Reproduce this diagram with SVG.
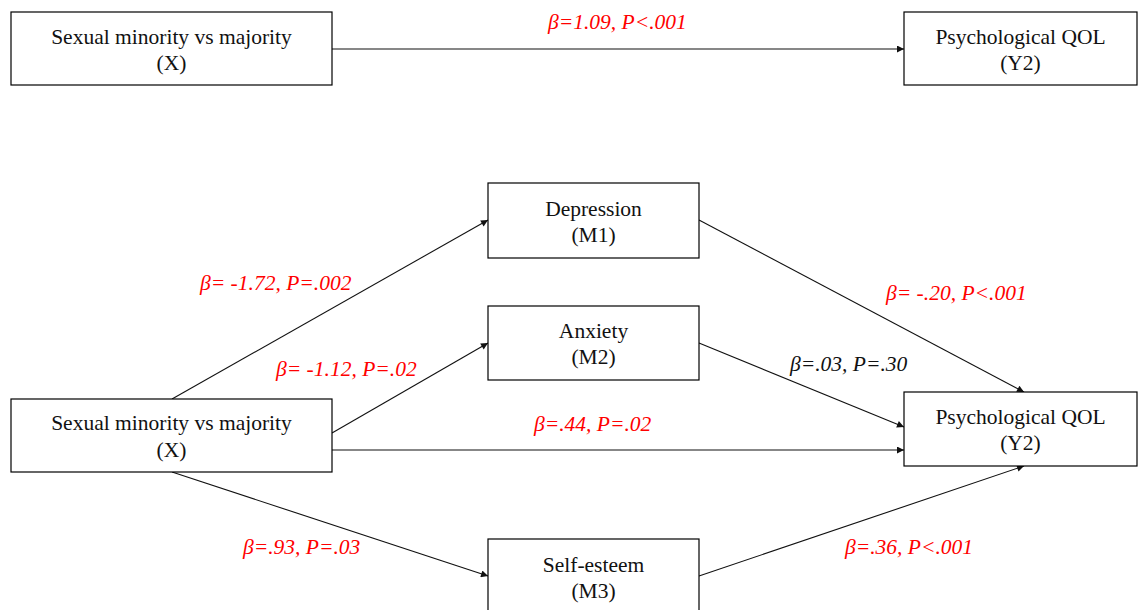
<svg xmlns="http://www.w3.org/2000/svg" width="1140" height="610" viewBox="0 0 1140 610">
<style>
.box{fill:#fff;stroke:#000;stroke-width:1.2}
.t{font-family:"Liberation Serif","Times New Roman",serif;font-size:21.5px;fill:#111;text-anchor:middle}
.l{font-family:"Liberation Serif","Times New Roman",serif;font-size:21.5px;font-style:italic;fill:#f00}
.lb{fill:#111}
.c{stroke:#111;stroke-width:1.1;fill:none;marker-end:url(#ah)}
</style>
<defs>
<marker id="ah" viewBox="0 0 10 10" refX="10" refY="5" markerWidth="9" markerHeight="7" markerUnits="userSpaceOnUse" orient="auto">
<path d="M0,0 L10,5 L0,10 z" fill="#111"/>
</marker>
</defs>
<rect width="1140" height="610" fill="#fff"/>
<g id="connectors">
<line class="c" x1="332" y1="49" x2="904" y2="49"/>
<line class="c" x1="172" y1="399" x2="488" y2="220"/>
<line class="c" x1="332" y1="433" x2="488" y2="343"/>
<line class="c" x1="332" y1="450" x2="904" y2="450"/>
<line class="c" x1="172" y1="472" x2="488" y2="576"/>
<line class="c" x1="699" y1="220" x2="1024" y2="392"/>
<line class="c" x1="699" y1="343" x2="904" y2="427"/>
<line class="c" x1="699" y1="576" x2="1024" y2="466"/>
</g>
<g id="labels">
<text class="l" x="548" y="29">β=1.09, P&lt;.001</text>
<text class="l" x="200" y="290">β= -1.72, P=.002</text>
<text class="l" x="276" y="376">β= -1.12, P=.02</text>
<text class="l" x="886" y="300">β= -.20, P&lt;.001</text>
<text class="l lb" x="790" y="371">β=.03, P=.30</text>
<text class="l" x="534" y="431">β=.44, P=.02</text>
<text class="l" x="243" y="554">β=.93, P=.03</text>
<text class="l" x="845" y="554">β=.36, P&lt;.001</text>
</g>
<g id="x-top">
<rect class="box" x="11" y="12" width="321" height="73"/>
<text class="t" x="171.5" y="44">Sexual minority vs majority</text>
<text class="t" x="171.5" y="70">(X)</text>
</g>
<g id="y2-top">
<rect class="box" x="904" y="12" width="233" height="73"/>
<text class="t" x="1020.5" y="44">Psychological QOL</text>
<text class="t" x="1020.5" y="70">(Y2)</text>
</g>
<g id="x-bottom">
<rect class="box" x="11" y="399" width="321" height="73"/>
<text class="t" x="171.5" y="430">Sexual minority vs majority</text>
<text class="t" x="171.5" y="457">(X)</text>
</g>
<g id="m1">
<rect class="box" x="488" y="183" width="211" height="75"/>
<text class="t" x="593.5" y="216">Depression</text>
<text class="t" x="593.5" y="242">(M1)</text>
</g>
<g id="m2">
<rect class="box" x="488" y="306" width="211" height="74"/>
<text class="t" x="593.5" y="338">Anxiety</text>
<text class="t" x="593.5" y="364">(M2)</text>
</g>
<g id="m3">
<rect class="box" x="488" y="539" width="211" height="75"/>
<text class="t" x="593.5" y="572">Self-esteem</text>
<text class="t" x="593.5" y="598">(M3)</text>
</g>
<g id="y2-bottom">
<rect class="box" x="904" y="392" width="233" height="74"/>
<text class="t" x="1020.5" y="424">Psychological QOL</text>
<text class="t" x="1020.5" y="450">(Y2)</text>
</g>
</svg>
